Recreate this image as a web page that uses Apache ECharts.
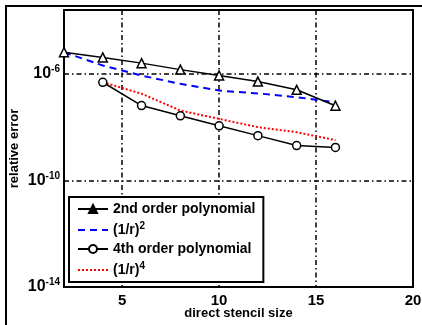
<!DOCTYPE html>
<html>
<head>
<meta charset="utf-8">
<script src="https://cdn.jsdelivr.net/npm/echarts@6/dist/echarts.min.js"></script>
<style>
  html, body { margin: 0; padding: 0; background: #fff; }
  #chart { width: 422px; height: 325px; }
</style>
</head>
<body>
<div id="chart"></div>
<script>
// stencil sizes
const xSecond = [2, 4, 6, 8, 10, 12, 14, 16]
const xFourth = [4, 6, 8, 10, 12, 14, 16]

// relative errors
const secondOrder = [6.3e-6, 4.0e-6, 2.45e-6, 1.4e-6, 8.4e-7, 5.0e-7, 2.45e-7, 6.2e-8]
const refSecond = [6.3e-6, 2.0e-6, 8.4e-7, 4.1e-7, 2.3e-7, 1.8e-7, 1.3e-7, 8.3e-8]
const fourthOrder = [4.7e-7, 6.3e-8, 2.6e-8, 1.1e-8, 4.7e-9, 2.0e-9, 1.7e-9]
const refFourth = [4.7e-7, 1.75e-7, 4.1e-8, 2.0e-8, 9.8e-9, 6.3e-9, 3.2e-9]

// axis ticks
const xTicks = [5, 10, 15, 20]
const yTicks = [1e-14, 1e-10, 1e-6]

const pairs = (xs, ys) => xs.map((x, i) => [x, ys[i]])

const chart = echarts.init(document.getElementById('chart'))

const font = 'Liberation Sans, Arial, sans-serif'
const gridLine = { show: true, lineStyle: { color: '#000', width: 1.5, type: [5, 3, 1.5, 3] } }

const option = {
  animation: false,
  graphic: [{
    type: 'rect',
    shape: { x: 6, y: 6, width: 440, height: 340 },
    style: { fill: 'none', stroke: '#000', lineWidth: 2 },
    z: 100
  }],
  grid: {
    left: 64, right: 9, top: 10, bottom: 38,
    outerBoundsMode: 'none',
    show: true, borderColor: '#000', borderWidth: 2
  },
  legend: {
    orient: 'vertical',
    left: 69, top: 197,
    padding: [5, 8, 5, 8],
    itemGap: 5,
    itemWidth: 30,
    itemHeight: 10,
    backgroundColor: '#fff',
    borderColor: '#000',
    borderWidth: 2,
    textStyle: {
      fontFamily: font, fontWeight: 'bold', fontSize: 14, color: '#000',
      rich: {
        b: { fontFamily: font, fontWeight: 'bold', fontSize: 14, color: '#000' },
        sup: { fontFamily: font, fontWeight: 'bold', fontSize: 10, color: '#000', verticalAlign: 'top', padding: [0, 0, 8, 0] }
      }
    },
    formatter: name => {
      if (name === '(1/r)^2') return '{b|(1/r)}{sup|2}'
      if (name === '(1/r)^4') return '{b|(1/r)}{sup|4}'
      return name
    },
    data: [
      { name: '2nd order polynomial', itemStyle: { color: '#000', borderColor: '#000' } },
      { name: '(1/r)^2', itemStyle: { opacity: 0 } },
      { name: '4th order polynomial' },
      { name: '(1/r)^4', itemStyle: { opacity: 0 } }
    ]
  },
  xAxis: {
    type: 'value',
    min: 2, max: 20,
    name: 'direct stencil size',
    nameLocation: 'middle',
    nameGap: 20,
    nameMoveOverlap: false,
    nameTextStyle: { fontFamily: font, fontWeight: 'bold', fontSize: 13, color: '#000', verticalAlign: 'top' },
    axisLine: { show: true, onZero: false, lineStyle: { color: '#000', width: 2 } },
    axisTick: { show: false, customValues: xTicks },
    axisLabel: { customValues: xTicks, fontFamily: font, fontWeight: 'bold', fontSize: 15, color: '#000', margin: 6 },
    splitLine: gridLine
  },
  yAxis: {
    type: 'log',
    logBase: 10,
    min: 1e-14, max: 2.4e-4,
    name: 'relative error',
    nameLocation: 'middle',
    nameGap: 43,
    nameMoveOverlap: false,
    nameTextStyle: { fontFamily: font, fontWeight: 'bold', fontSize: 13, color: '#000' },
    axisLine: { show: true, lineStyle: { color: '#000', width: 2 } },
    axisTick: { show: false, customValues: yTicks },
    axisLabel: {
      customValues: yTicks,
      margin: 4,
      formatter: v => '{b|10}{sup|' + Math.round(Math.log10(v)) + '}',
      rich: {
        b: { fontFamily: font, fontWeight: 'bold', fontSize: 16, color: '#000' },
        sup: { fontFamily: font, fontWeight: 'bold', fontSize: 10, color: '#000', verticalAlign: 'top', padding: [0, 0, 9, 0] }
      }
    },
    splitLine: gridLine
  },
  series: [
    {
      name: '2nd order polynomial',
      type: 'line',
      data: pairs(xSecond, secondOrder),
      symbol: 'triangle',
      symbolSize: 9,
      itemStyle: { color: '#fff', borderColor: '#000', borderWidth: 1.5 },
      lineStyle: { color: '#000', width: 1.5 },
      z: 4
    },
    {
      name: '(1/r)^2',
      type: 'line',
      data: pairs(xSecond, refSecond),
      symbol: 'none',
      itemStyle: { color: '#0000ff' },
      lineStyle: { color: '#0000ff', width: 2, type: [7, 5] },
      z: 3
    },
    {
      name: '4th order polynomial',
      type: 'line',
      data: pairs(xFourth, fourthOrder),
      symbol: 'circle',
      symbolSize: 8,
      itemStyle: { color: '#fff', borderColor: '#000', borderWidth: 1.5 },
      lineStyle: { color: '#000', width: 1.5 },
      z: 4
    },
    {
      name: '(1/r)^4',
      type: 'line',
      data: pairs(xFourth, refFourth),
      symbol: 'none',
      itemStyle: { color: '#ff0000' },
      lineStyle: { color: '#ff0000', width: 2, type: [2, 2] },
      z: 3
    }
  ]
}

chart.setOption(option)
</script>
</body>
</html>
